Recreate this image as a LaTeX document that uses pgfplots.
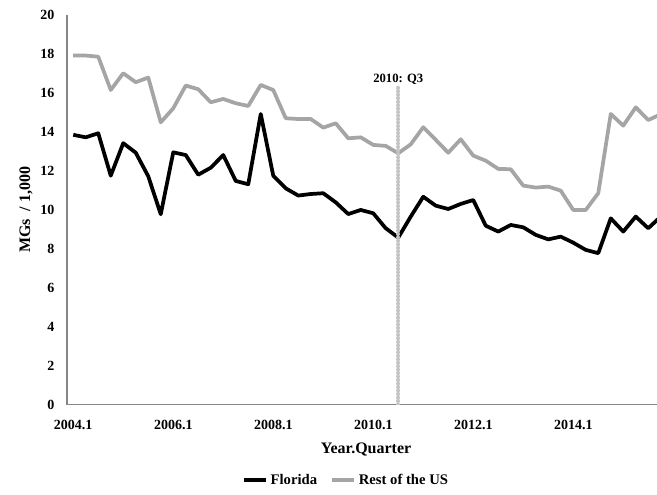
\documentclass[border=0pt]{standalone}
\usepackage{pgfplots}
\usepackage{pgfplotstable}
\pgfplotsset{compat=1.18}
\usepackage{fontspec}
\setmainfont{Liberation Serif}

\definecolor{usgray}{HTML}{A5A5A5}
\definecolor{axisgray}{HTML}{868686}
\definecolor{markgray}{HTML}{C4C4C4}

% quarter index (0 = 2004 Q1), value in MGs / 1,000
\pgfplotstableread{
q  v
0  13.85
1  13.72
2  13.93
3  11.75
4  13.42
5  12.93
6  11.72
7  9.77
8  12.95
9  12.81
10 11.80
11 12.16
12 12.81
13 11.48
14 11.31
15 14.92
16 11.75
17 11.10
18 10.73
19 10.81
20 10.85
21 10.38
22 9.78
23 9.99
24 9.82
25 9.05
26 8.57
27 9.65
28 10.67
29 10.21
30 10.04
31 10.30
32 10.50
33 9.18
34 8.88
35 9.22
36 9.10
37 8.71
38 8.48
39 8.62
40 8.31
41 7.94
42 7.77
43 9.56
44 8.88
45 9.65
46 9.05
47 9.65
}\florida

\pgfplotstableread{
q  v
0  17.92
1  17.92
2  17.86
3  16.15
4  17.01
5  16.55
6  16.79
7  14.49
8  15.21
9  16.38
10 16.19
11 15.52
12 15.69
13 15.47
14 15.33
15 16.41
16 16.15
17 14.70
18 14.66
19 14.66
20 14.22
21 14.44
22 13.67
23 13.72
24 13.33
25 13.28
26 12.90
27 13.36
28 14.24
29 13.59
30 12.93
31 13.62
32 12.78
33 12.52
34 12.10
35 12.08
36 11.24
37 11.14
38 11.19
39 10.98
40 9.99
41 9.99
42 10.85
43 14.92
44 14.32
45 15.26
46 14.61
47 14.90
}\restus

\begin{document}
\begin{tikzpicture}
\useasboundingbox (-50.25pt,-67.125pt) rectangle (442.5pt,303.375pt);
\begin{axis}[
  at={(0,0)}, anchor=south west,
  scale only axis,
  width=442.5pt, height=292.1pt,
  xmin=-0.5, xmax=46.7,
  ymin=0, ymax=20,
  axis x line*=bottom, axis y line*=left,
  axis line style={draw=axisgray, line width=0.8pt, -},
  xtick={0,8,16,24,32,40},
  xticklabels={2004.1,2006.1,2008.1,2010.1,2012.1,2014.1},
  ytick={0,2,...,20},
  major tick length=0pt,
  /pgf/number format/assume math mode=true,
  tick label style={font=\fontsize{10.5}{12}\selectfont\bfseries},
  xticklabel style={yshift=-8pt},
  yticklabel style={xshift=-6pt},
  xlabel={Year.Quarter},
  ylabel={MGs\ \ / 1,000},
  label style={font=\fontsize{12}{14}\selectfont\bfseries},
  xlabel style={at={(axis description cs:0.5068,0)}, anchor=center, yshift=-33.5pt},
  ylabel style={at={(axis description cs:-0.0695,0.5)}, anchor=center},
  legend columns=2,
  legend style={at={(axis description cs:0.4737,-0.1938)}, anchor=center,
    draw=none, fill=none, font=\fontsize{11}{13}\selectfont\bfseries,
    /tikz/every even column/.append style={column sep=8pt}},
  legend image code/.code={\draw[#1] (0pt,0pt) -- (16.5pt,0pt);},
  clip=true,
]
\addplot[black, line width=2.8pt, line join=round] table[x=q, y=v] {\florida};
\addlegendentry{Florida}
\addplot[usgray, line width=2.8pt, line join=round] table[x=q, y=v] {\restus};
\addlegendentry{Rest of the US}
% policy marker at 2010 Q3
\addplot[markgray, line width=3pt, line cap=round, dash pattern=on 0.01pt off 2.6pt, forget plot]
  coordinates {(26,0) (26,16.3)};
\node[anchor=south, inner sep=1.5pt, font=\fontsize{9.5}{11}\selectfont\bfseries]
  at (axis cs:26,16.3) {2010: Q3};
\end{axis}
\end{tikzpicture}
\end{document}
